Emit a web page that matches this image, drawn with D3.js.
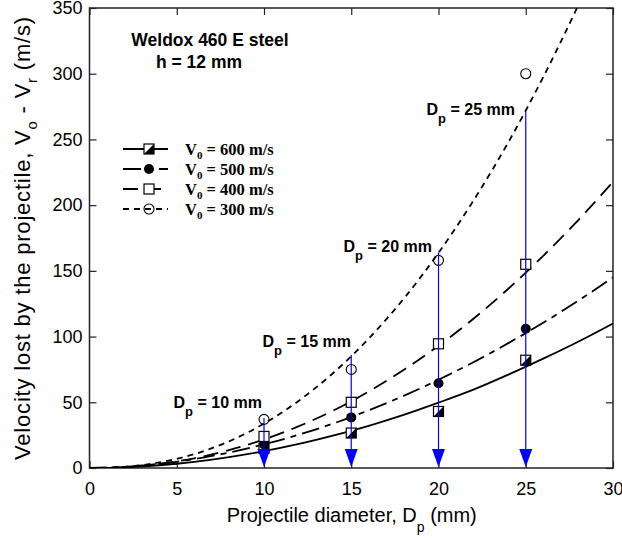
<!DOCTYPE html>
<html>
<head>
<meta charset="utf-8">
<script src="https://cdn.jsdelivr.net/npm/d3@7"></script>
<style>
    body { margin: 0; background: #fff; }
    svg { display: block; }
</style>
</head>
<body>
<div id="chart"></div>
<script>

// fitted curves, every 2 mm
var curveDiameters = [0, 2, 4, 6, 8, 10, 12, 14, 16, 18, 20, 22, 24, 26, 28, 30];
var curve600 = [0, 0.5, 2.1, 4.7, 8.3, 12.8, 18.3, 24.8, 32.1, 40.4, 49.7, 59.6, 71.0, 83.2, 96.1, 110];
var curve500 = [0, 0.8, 3.2, 6.8, 11.8, 18.0, 25.4, 34.0, 43.9, 54.9, 67.1, 80.5, 95.0, 110.5, 127.2, 145];
var curve400 = [0, 0.7, 3.2, 7.4, 13.6, 21.7, 31.8, 43.9, 58.2, 74.6, 93.0, 113.6, 136.4, 161.4, 188.5, 217.8];
var curve300 = [0, 0.9, 4.2, 10.5, 20.3, 33.8, 51.2, 72.7, 98.4, 128.7, 163.7, 203.4, 247.8, 297.4, 352, 412];

// measured points
var pointDiameters = [10, 15, 20, 25];
var points600 = [15, 26.6, 43, 82];
var points500 = [18, 38.5, 64.5, 106];
var points400 = [24, 50, 94.5, 155];
var points300 = [37, 75, 158, 300];

// blue arrows, from top value down to zero
var arrowTops = [38, 86, 164, 271];
var arrowLabels = ['10', '15', '20', '25'];

var xTicks = [0, 5, 10, 15, 20, 25, 30];
var yTicks = [0, 50, 100, 150, 200, 250, 300, 350];

var legendLabels = ['600', '500', '400', '300'];

var width = 622;
var height = 538;

var x = d3.scaleLinear().domain([0, 30]).range([89.5, 613]);
var y = d3.scaleLinear().domain([0, 350]).range([468, 8]);

var svg = d3.select('#chart')
    .append('svg')
    .attr('width', width)
    .attr('height', height);

svg.append('defs')
    .append('clipPath')
    .attr('id', 'plot-clip')
    .append('rect')
    .attr('x', x(0))
    .attr('y', y(350))
    .attr('width', x(30) - x(0))
    .attr('height', y(0) - y(350));

// axes, ticks pointing inward on all four sides
var axisFont = 'Liberation Sans, Arial, sans-serif';

svg.append('g')
    .attr('transform', 'translate(0,' + y(0) + ')')
    .call(d3.axisBottom(x).tickValues(xTicks).tickSize(-7).tickPadding(14));

svg.append('g')
    .attr('transform', 'translate(0,' + y(350) + ')')
    .call(d3.axisTop(x).tickValues(xTicks).tickSize(-7).tickFormat(''));

svg.append('g')
    .attr('transform', 'translate(' + x(0) + ',0)')
    .call(d3.axisLeft(y).tickValues(yTicks).tickSize(-7).tickPadding(7));

svg.append('g')
    .attr('transform', 'translate(' + x(30) + ',0)')
    .call(d3.axisRight(y).tickValues(yTicks).tickSize(-7).tickFormat(''));

svg.selectAll('.domain').remove();
svg.selectAll('.tick line').attr('stroke', '#222').attr('stroke-width', 1.2);
svg.selectAll('.tick text')
    .attr('fill', '#000')
    .style('font-family', axisFont)
    .style('font-size', '18px');

svg.append('rect')
    .attr('x', x(0))
    .attr('y', y(350))
    .attr('width', x(30) - x(0))
    .attr('height', y(0) - y(350))
    .attr('fill', 'none')
    .attr('stroke', '#222')
    .attr('stroke-width', 1.5);

// axis labels
var xLabel = svg.append('text')
    .attr('x', (x(0) + x(30)) / 2 + 0.5)
    .attr('y', 522)
    .attr('text-anchor', 'middle')
    .style('font-family', axisFont)
    .style('font-size', '20px');
xLabel.append('tspan').text('Projectile diameter, D');
xLabel.append('tspan').attr('dy', 10).style('font-size', '14px').text('p');
xLabel.append('tspan').attr('dy', -10).text(' (mm)');

var yLabel = svg.append('text')
    .attr('transform', 'translate(30,' + 238 + ')rotate(-90)')
    .attr('text-anchor', 'middle')
    .style('font-family', axisFont)
    .style('font-size', '22px')
    .style('letter-spacing', '0.8px');
yLabel.append('tspan').text('Velocity lost by the projectile, V');
yLabel.append('tspan').attr('dy', 7).style('font-size', '15px').text('o');
yLabel.append('tspan').attr('dy', -7).text(' - V');
yLabel.append('tspan').attr('dy', 7).style('font-size', '15px').text('r');
yLabel.append('tspan').attr('dy', -7).text(' (m/s)');

// curves
var series = [
    { values: curve600, dash: null },
    { values: curve500, dash: '18,6,6,6' },
    { values: curve400, dash: '15,8' },
    { values: curve300, dash: '6,5' }
];

var line = d3.line()
    .x(function(d) { return x(d[0]); })
    .y(function(d) { return y(d[1]); })
    .curve(d3.curveMonotoneX);

var curves = svg.append('g').attr('clip-path', 'url(#plot-clip)');

series.forEach(function(s) {
    curves.append('path')
        .datum(curveDiameters.map(function(d, i) { return [d, s.values[i]]; }))
        .attr('d', line)
        .attr('fill', 'none')
        .attr('stroke', '#000')
        .attr('stroke-width', 1.8)
        .attr('stroke-dasharray', s.dash);
});

// marker drawing helpers
function halfSquare(g, cx, cy) {
    g.append('rect')
        .attr('x', cx - 5).attr('y', cy - 5)
        .attr('width', 10).attr('height', 10)
        .attr('fill', '#fff').attr('stroke', '#000').attr('stroke-width', 1.2);
    g.append('path')
        .attr('d', 'M' + (cx + 5) + ',' + (cy - 5) + 'L' + (cx + 5) + ',' + (cy + 5) + 'L' + (cx - 5) + ',' + (cy + 5) + 'Z')
        .attr('fill', '#000');
}

function filledCircle(g, cx, cy) {
    g.append('circle')
        .attr('cx', cx).attr('cy', cy).attr('r', 5)
        .attr('fill', '#000');
}

function openSquare(g, cx, cy) {
    g.append('rect')
        .attr('x', cx - 5).attr('y', cy - 5)
        .attr('width', 10).attr('height', 10)
        .attr('fill', '#fff').attr('stroke', '#000').attr('stroke-width', 1.2);
}

function openCircle(g, cx, cy) {
    g.append('circle')
        .attr('cx', cx).attr('cy', cy).attr('r', 5)
        .attr('fill', 'none').attr('stroke', '#000').attr('stroke-width', 1.1);
}

var markerFns = [halfSquare, filledCircle, openSquare, openCircle];
var pointSets = [points600, points500, points400, points300];

var markers = svg.append('g');
pointSets.forEach(function(vals, k) {
    pointDiameters.forEach(function(d, i) {
        markerFns[k](markers, x(d), y(vals[i]));
    });
});

// blue arrows
var arrows = svg.append('g');
pointDiameters.forEach(function(d, i) {
    var cx = x(d);
    arrows.append('line')
        .attr('x1', cx).attr('x2', cx)
        .attr('y1', y(arrowTops[i])).attr('y2', y(0) - 10)
        .attr('stroke', '#0000ff')
        .attr('stroke-width', 1.2);
    arrows.append('path')
        .attr('d', 'M' + (cx - 6.5) + ',' + (y(0) - 19) + 'L' + (cx + 6.5) + ',' + (y(0) - 19) + 'L' + cx + ',' + (y(0) - 1) + 'Z')
        .attr('fill', '#0000ff');
});

// diameter labels
var labelFont = 'Liberation Sans, Arial, sans-serif';
var labelEnds = [262, 351, 432, 515];
var labelBaselines = [408, 347, 252, 115];

pointDiameters.forEach(function(d, i) {
    var t = svg.append('text')
        .attr('x', labelEnds[i])
        .attr('y', labelBaselines[i])
        .attr('text-anchor', 'end')
        .style('font-family', labelFont)
        .style('font-weight', 'bold')
        .style('font-size', '16px');
    t.append('tspan').text('D');
    t.append('tspan').attr('dy', 8).style('font-size', '13px').text('p');
    t.append('tspan').attr('dy', -8).text(' = ' + arrowLabels[i] + ' mm');
});

// title
svg.append('text')
    .attr('x', 210)
    .attr('y', 46)
    .attr('text-anchor', 'middle')
    .style('font-family', labelFont)
    .style('font-weight', 'bold')
    .style('font-size', '17.5px')
    .text('Weldox 460 E steel');

svg.append('text')
    .attr('x', 199)
    .attr('y', 68)
    .attr('text-anchor', 'middle')
    .style('font-family', labelFont)
    .style('font-weight', 'bold')
    .style('font-size', '17.5px')
    .text('h = 12 mm');

// legend
var legend = svg.append('g');
var legendRows = [149, 169, 189, 209];

series.forEach(function(s, i) {
    var ly = legendRows[i];
    legend.append('line')
        .attr('x1', 123).attr('x2', 168)
        .attr('y1', ly).attr('y2', ly)
        .attr('stroke', '#000')
        .attr('stroke-width', 1.8)
        .attr('stroke-dasharray', s.dash);
    markerFns[i](legend, 149, ly);

    var t = legend.append('text')
        .attr('x', 185)
        .attr('y', ly + 6)
        .style('font-family', 'Liberation Serif, Times New Roman, serif')
        .style('font-weight', 'bold')
        .style('font-size', '16.5px');
    t.append('tspan').text('V');
    t.append('tspan').attr('dy', 4).style('font-size', '11px').text('0');
    t.append('tspan').attr('dy', -4).text(' = ' + legendLabels[i] + ' m/s');
});

</script>
</body>
</html>
